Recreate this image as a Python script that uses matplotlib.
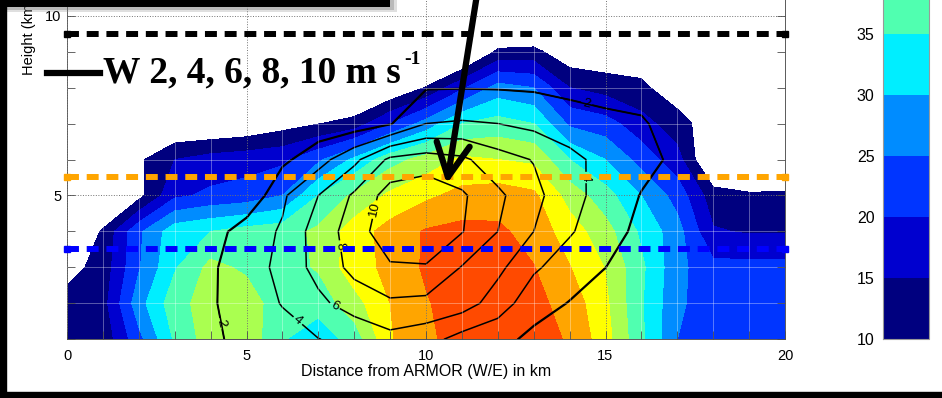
import numpy as np
import matplotlib.pyplot as plt
from matplotlib.patches import Rectangle
from matplotlib.lines import Line2D
from matplotlib.ticker import MultipleLocator

plt.rcParams['font.family'] = ['Liberation Sans', 'DejaVu Sans']

# cross-section grid (km)
distance = np.arange(0, 21)
height = np.arange(1, 11)

# reflectivity (dBZ), one list per height level
dbz_1km = [12, 11.5, 23.4, 35.7, 42.7, 43.3, 35.4, 32, 37, 49.5, 54, 57, 58, 57, 54.5, 47, 36, 25, 23, 23, 23.5]
dbz_2km = [12, 13, 28, 38, 42.5, 43, 36.5, 37, 43, 50, 54.5, 58, 59, 56.5, 53, 46, 35.5, 26, 22, 21.5, 21.5]
dbz_3km = [8, 12, 24.5, 34.5, 41.5, 39, 38, 40.5, 48, 51.2, 55.8, 58.5, 59, 55.2, 50.2, 44.8, 36, 26.5, 21.5, 21.5, 21.5]
dbz_4km = [2, 10.8, 24, 33, 35, 37, 38, 41, 47.5, 52, 55.5, 56.5, 56, 53, 47.5, 42, 34, 27, 15.5, 14.5, 14.5]
dbz_5km = [0, 1, 8.25, 19, 21, 22, 25, 35, 41, 46, 49, 51.5, 52.5, 51, 43, 37, 30, 23, 12.2, 11, 11.2]
dbz_6km = [0, 0, 9, 15, 17, 18, 19, 24, 31, 38, 42, 46, 45, 44, 35, 30, 23, 17, 3, 0, 0]
dbz_7km = [0, 0, 0, 4.1, 4.3, 5.3, 7.75, 9.8, 12, 20, 27, 35, 37, 35, 24, 22, 17, 12, 7, 0, 0]
dbz_8km = [0, 0, 0, 0, 0, 0, 0, 0, 1.5, 4.7, 10.3, 19, 27, 25, 15, 13, 11, 7, 0, 0, 0]
dbz_9km = [0, 0, 0, 0, 0, 0, 0, 0, 0, 0, 0, 1, 11, 11.5, 6, 5.5, 7, 0, 0, 0, 0]
dbz_10km = [0, 0, 0, 0, 0, 0, 0, 0, 0, 0, 0, 0, 0, 0, 0, 0, 0, 0, 0, 0, 0]

# vertical velocity W (m/s)
w_1km = [0, 0, 0.3, 0.9, 1.7, 2.5, 3.2, 3.95, 4.6, 5.4, 4.8, 3.2, 2.6, 1.5, 0.8, 0.3, 0, 0, 0, 0, 0]
w_2km = [0, 0, 0.4, 1.0, 1.8, 2.9, 4.1, 5.6, 6.8, 7.7, 7.5, 7.0, 5.0, 2.8, 1.9, 1.0, 0.3, 0, 0, 0, 0]
w_3km = [0, 0, 0.3, 1.0, 1.85, 2.6, 4.8, 6.6, 8.6, 9.7, 9.8, 7.9, 6.5, 4.3, 3.0, 2.0, 1.0, 0.3, 0, 0, 0]
w_4km = [0, 0, 0.2, 0.5, 1.0, 3.1, 4.2, 7.0, 8.8, 11.6, 11.9, 10.1, 8.0, 6.0, 4.2, 2.8, 1.5, 0.6, 0, 0, 0]
w_5km = [0, 0, 0, 0.2, 0.3, 0.3, 3.7, 6.0, 8.3, 10.9, 11.4, 10.3, 8.4, 6.6, 4.6, 3.3, 1.9, 0.8, 0.2, 0, 0]
w_6km = [0, 0, 0, 0, 0.2, 0.5, 1.6, 3.2, 5.5, 8.4, 8.9, 8.4, 6.8, 5.9, 4.5, 3.4, 2.6, 1.6, 0.5, 0, 0]
w_7km = [0, 0, 0, 0, 0, 0.2, 0.5, 0.8, 1.0, 1.9, 4.0, 4.2, 4.0, 3.5, 3.0, 2.6, 2.3, 0.8, 0.2, 0, 0]
w_8km = [0, 0, 0, 0, 0, 0, 0, 0, 0.3, 0.8, 1.9, 1.95, 1.9, 1.8, 1.5, 1.2, 1.0, 0.4, 0, 0, 0]
w_9km = [0, 0, 0, 0, 0, 0, 0, 0, 0, 0, 0.5, 0.5, 0.5, 0.5, 0, 0, 0, 0, 0, 0, 0]
w_10km = [0, 0, 0, 0, 0, 0, 0, 0, 0, 0, 0, 0, 0, 0, 0, 0, 0, 0, 0, 0, 0]

dbz = np.array([dbz_1km, dbz_2km, dbz_3km, dbz_4km, dbz_5km,
                dbz_6km, dbz_7km, dbz_8km, dbz_9km, dbz_10km])
w = np.array([w_1km, w_2km, w_3km, w_4km, w_5km,
              w_6km, w_7km, w_8km, w_9km, w_10km])

dbz_levels = np.arange(10, 70, 5)
dbz_colors = ['#00007f', '#0000cf', '#0035ff', '#008cff', '#00eeff', '#50ffb0',
              '#aaff50', '#ffff00', '#ffa500', '#ff4a00', '#d00000']
cbar_ticks = [10, 15, 20, 25, 30, 35]
w_levels = [2, 4, 6, 8, 10]
w_label_spots = [(4.35, 1.45), (14.5, 7.66), (6.5, 1.6), (14.57, 5.5),
                 (7.5, 2.0), (7.65, 3.6), (8.6, 4.6)]

# analysis layers (km) and the arrow
layer_heights = [9.5, 5.5, 3.5]
layer_colors = ['black', '#ffa500', '#0000ff']
arrow_tip = (10.58, 5.32)
arrow_tail = (11.55, 11.4)

FW, FH = 942, 398
def box(x0, y0, w_, h_):
    # pixel box (from top-left) -> figure fraction
    return [x0 / FW, 1 - (y0 + h_) / FH, w_ / FW, h_ / FH]

fig = plt.figure(figsize=(FW / 100, FH / 100), dpi=100)
ax = fig.add_axes(box(67, 339.3 - 359.6, 718, 359.6))

cf = ax.contourf(distance, height, dbz, levels=dbz_levels, colors=dbz_colors)

ax.set_xlim(0, 20)
ax.set_ylim(1, 11)
ax.xaxis.set_major_locator(MultipleLocator(5))
ax.yaxis.set_major_locator(MultipleLocator(5))
ax.xaxis.set_minor_locator(MultipleLocator(1))
ax.yaxis.set_minor_locator(MultipleLocator(1))
ax.tick_params(which='both', direction='in', top=True, right=True,
               length=5.5, width=0.6, color='0.3', labelsize=10.5)
ax.tick_params(axis='x', pad=7)
ax.tick_params(axis='y', pad=4)
ax.set_axisbelow(False)
ax.grid(which='major', ls=':', color='0.45', lw=0.7)
ax.grid(which='minor', ls='-', color='white', alpha=0.35, lw=0.7)
for s in ax.spines.values():
    s.set_color('0.35')
    s.set_linewidth(0.7)

# W contours
wf = ax.contourf(distance, height, w, levels=[2, 50], colors='none')
wf.set_edgecolor('k')
wf.set_linewidth(1.1)
wc = ax.contour(distance, height, w, levels=w_levels, colors='k', linewidths=1.1)
ax.clabel(wc, fmt='%d', fontsize=9.5, inline=True, inline_spacing=2, manual=w_label_spots)

xl = ax.get_xlim()
for hgt, col in zip(layer_heights, layer_colors):
    ax.plot(xl, [hgt, hgt], color=col, lw=4.3, dashes=(2.0, 1.3),
            marker='s', ms=4.5, zorder=6, clip_on=False)

ax.annotate('', xy=arrow_tip, xytext=arrow_tail, xycoords='data',
            annotation_clip=False,
            arrowprops=dict(arrowstyle='->,head_length=2.4,head_width=1.2',
                            lw=4.5, color='k', shrinkA=0, shrinkB=0,
                            mutation_scale=10, capstyle='round', joinstyle='round'),
            zorder=7)

ax.set_xlabel('Distance from ARMOR (W/E) in km', fontsize=11.5, labelpad=1)
fig.text(28.5 / FW, 1 - 75 / FH, 'Height (km)', rotation=90, ha='center',
         va='bottom', fontsize=10.5)

# colorbar
cax = fig.add_axes(box(883, 339.3 - 671, 46, 671))
cb = fig.colorbar(cf, cax=cax, ticks=cbar_ticks)
cax.yaxis.set_ticks_position('left')
cax.tick_params(length=0, pad=6, labelsize=11.5)
cb.outline.set_edgecolor('0.6')
cb.outline.set_linewidth(0.8)

# legend for W contours
fig.add_artist(Line2D([47 / FW, 100 / FW], [1 - 73 / FH] * 2, color='k', lw=4.5))
fig.text(103 / FW, 1 - 82 / FH, 'W 2, 4, 6, 8, 10 m s', fontsize=27,
         fontweight='bold', family=['Liberation Serif', 'DejaVu Serif'],
         va='baseline', ha='left')
fig.text(404 / FW, 1 - 64 / FH, '-1', fontsize=14, fontweight='bold',
         family=['Liberation Serif', 'DejaVu Serif'], va='baseline', ha='left')

# slide frame
fig.add_artist(Rectangle((0, 0), 6 / FW, 1, transform=fig.transFigure, color='k', zorder=20))
fig.add_artist(Rectangle((0, 0), 1, 6 / FH, transform=fig.transFigure, color='k', zorder=20))
fig.add_artist(Rectangle((0, 1 - 12 / FH), 397 / FW, 12 / FH, transform=fig.transFigure,
                         color='0.5', alpha=0.25, lw=0, zorder=19))
fig.add_artist(Rectangle((0, 1 - 10 / FH), 394 / FW, 10 / FH, transform=fig.transFigure,
                         color='0.4', alpha=0.3, lw=0, zorder=19))
fig.add_artist(Rectangle((0, 1 - 7 / FH), 390 / FW, 7 / FH, transform=fig.transFigure,
                         color='k', lw=0, zorder=20))

fig.savefig('out.png', dpi=100)
